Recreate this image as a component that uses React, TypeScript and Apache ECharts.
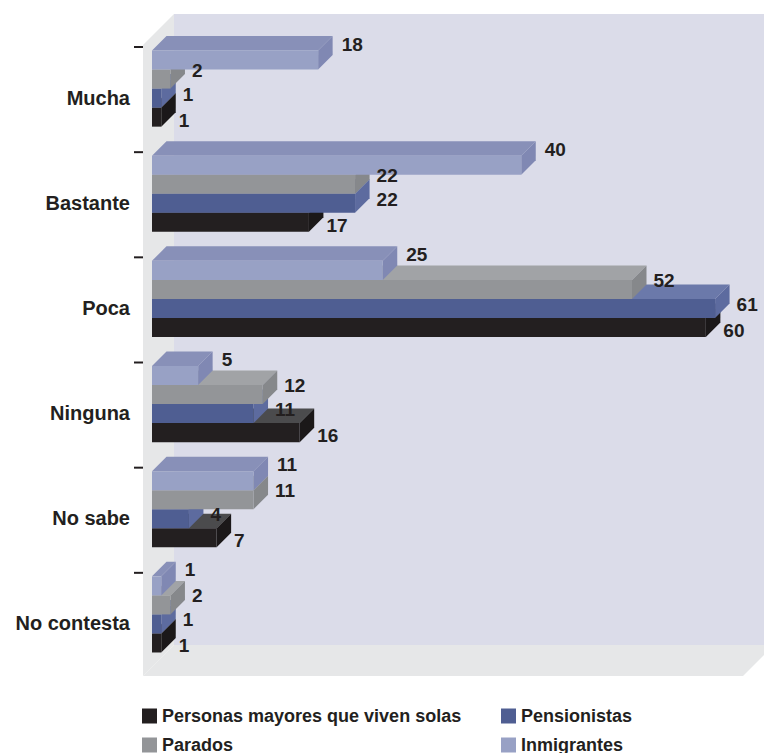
import React, { useEffect, useRef } from "react";
import * as echarts from "echarts";

const categories = ["Mucha", "Bastante", "Poca", "Ninguna", "No sabe", "No contesta"];
const personasMayores = [1, 17, 60, 16, 7, 1];
const pensionistas = [1, 22, 61, 11, 4, 1];
const parados = [2, 22, 52, 12, 11, 2];
const inmigrantes = [18, 40, 25, 5, 11, 1];
const seriesNames = [
  "Personas mayores que viven solas",
  "Pensionistas",
  "Parados",
  "Inmigrantes",
];
const valueMax = 65;

const FONT = "'Liberation Sans', Arial, Helvetica, sans-serif";
const TEXT = "#231f20";

// face colours: front, top, side
const palettes = [
  { front: "#231f20", top: "#4b4b4d", side: "#1b1819" },
  { front: "#4f5e92", top: "#6b79aa", side: "#5d6b9f" },
  { front: "#939598", top: "#a1a3a6", side: "#86888b" },
  { front: "#98a1c5", top: "#8890b8", side: "#8088b3" },
];
const labelDx = [3, 7, 7, 9];
const labelDy = [3, -4, -9, -16];

const SHIFT = 9; // bar plane offset from front plane
const DEPTH = 14.5; // bar depth
const WALL = 31; // back wall depth

export default function App() {
  const ref = useRef<HTMLDivElement>(null);
  useEffect(() => {
    document.body.style.margin = "0";
    const chart = echarts.init(ref.current!, null, { renderer: "svg" });
    const values = [personasMayores, pensionistas, parados, inmigrantes];

    const barSeries = values.map((arr, s) => ({
      type: "custom",
      name: seriesNames[s],
      z: 2,
      itemStyle: { color: palettes[s].front },
      data: arr.map((v, i) => [v, i]),
      renderItem: (params: any, api: any) => {
        const v = api.value(0);
        const i = api.value(1);
        const base = api.coord([0, i]);
        const end = api.coord([v, i]);
        const band = api.size([0, 1])[1];
        const t = band * 0.181;
        const x0 = base[0] + SHIFT;
        const x1 = end[0] + SHIFT;
        const yc = base[1] - SHIFT;
        const top = yc + (1 - s) * t;
        const bottom = top + t;
        const d = DEPTH;
        const p = palettes[s];
        return {
          type: "group",
          children: [
            {
              type: "polygon",
              shape: { points: [[x0, top], [x0 + d, top - d], [x1 + d, top - d], [x1, top]] },
              style: { fill: p.top },
            },
            {
              type: "polygon",
              shape: { points: [[x1, top], [x1 + d, top - d], [x1 + d, bottom - d], [x1, bottom]] },
              style: { fill: p.side },
            },
            {
              type: "rect",
              shape: { x: x0, y: top, width: x1 - x0, height: t },
              style: { fill: p.front },
            },
            {
              type: "text",
              z2: 100,
              style: {
                text: String(v),
                x: x1 + d + labelDx[s],
                y: (top + bottom) / 2 + labelDy[s],
                fill: TEXT,
                fontSize: 19,
                fontWeight: "bold",
                fontFamily: FONT,
                align: "left",
                verticalAlign: "middle",
              },
            },
          ],
        };
      },
    }));

    const frameSeries = {
      type: "custom",
      name: "frame",
      z: 1,
      silent: true,
      data: [[0, 0]],
      renderItem: (params: any, api: any) => {
        const cs = params.coordSys;
        const x = cs.x, y = cs.y, w = cs.width, h = cs.height;
        const band = api.size([0, 1])[1];
        const ticks = categories.map((_, k) => {
          const c = api.coord([0, k]);
          const yy = c[1] - band / 2 + 2;
          return {
            type: "line",
            shape: { x1: x - 9, y1: yy, x2: x, y2: yy },
            style: { stroke: TEXT, lineWidth: 2 },
          };
        });
        return {
          type: "group",
          children: [
            {
              type: "rect",
              shape: { x: x + WALL, y: y - WALL, width: w, height: h },
              style: { fill: "#dbdce9" },
            },
            {
              type: "polygon",
              shape: { points: [[x, y], [x + WALL, y - WALL], [x + WALL, y + h - WALL], [x, y + h]] },
              style: { fill: "#e6e7e8" },
            },
            {
              type: "polygon",
              shape: { points: [[x, y + h], [x + WALL, y + h - WALL], [x + w + WALL, y + h - WALL], [x + w, y + h]] },
              style: { fill: "#e6e7e8" },
            },
            ...ticks,
          ],
        };
      },
    };

    const legendBase = {
      orient: "vertical",
      top: 707,
      height: 80,
      padding: 0,
      itemWidth: 15,
      itemHeight: 15,
      itemGap: 11,
      icon: "rect",
      selectedMode: false,
      textStyle: { color: TEXT, fontSize: 18, fontWeight: "bold", fontFamily: FONT, lineHeight: 18 },
    };

    chart.setOption({
      animation: false,
      backgroundColor: "#ffffff",
      grid: { left: 143, top: 45, width: 600, height: 631, containLabel: false },
      xAxis: {
        type: "value",
        min: 0,
        max: valueMax,
        show: false,
      },
      yAxis: {
        type: "category",
        data: categories,
        inverse: true,
        axisLine: { show: false },
        axisTick: { show: false },
        splitLine: { show: false },
        axisLabel: {
          margin: 13,
          color: TEXT,
          fontSize: 20,
          fontWeight: "bold",
          fontFamily: FONT,
        },
      },
      legend: [
        {
          ...legendBase,
          left: 142,
          data: [
            { name: seriesNames[0], itemStyle: { color: palettes[0].front } },
            { name: seriesNames[2], itemStyle: { color: palettes[2].front } },
          ],
        },
        {
          ...legendBase,
          left: 501,
          data: [
            { name: seriesNames[1], itemStyle: { color: palettes[1].front } },
            { name: seriesNames[3], itemStyle: { color: palettes[3].front } },
          ],
        },
      ],
      series: [frameSeries, ...barSeries],
    });
    return () => chart.dispose();
  }, []);
  return <div ref={ref} style={{ width: 764, height: 753 }} />;
}
